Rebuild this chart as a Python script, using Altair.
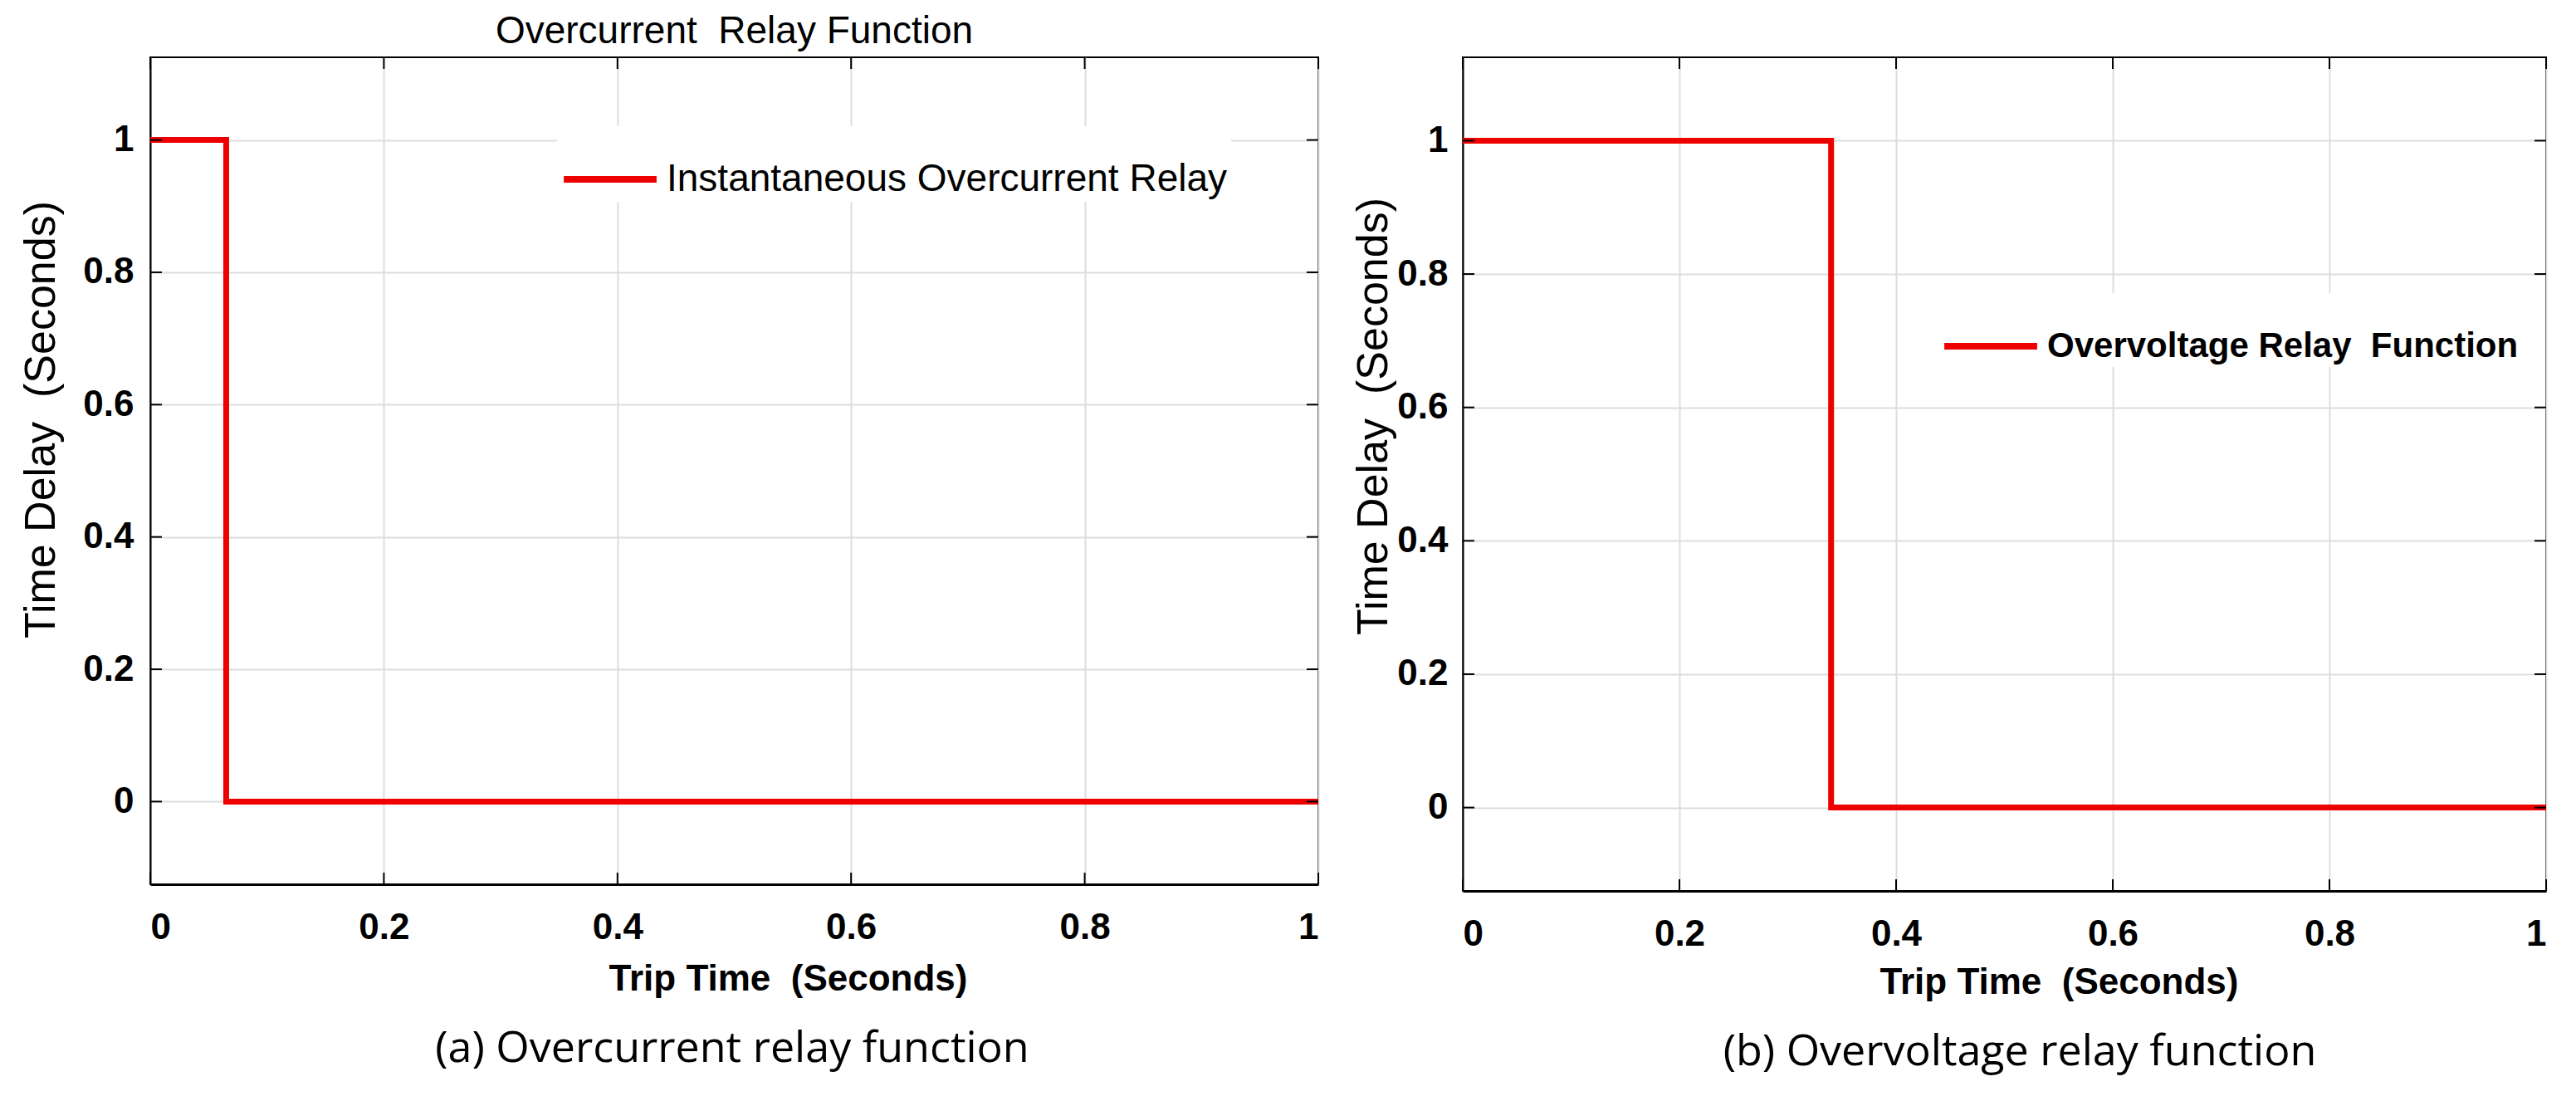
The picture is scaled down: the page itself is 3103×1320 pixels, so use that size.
import altair as alt
import pandas as pd

RED = "#ee0000"
NARROW = "Liberation Sans Narrow, Arial Narrow, Liberation Sans, sans-serif"
SANS = "Liberation Sans, Arial, sans-serif"
CAPTION = "Open Sans, Noto Sans, sans-serif"
NB = "\u00a0"

# ---- data ----
x_ticks = [0, 0.2, 0.4, 0.6, 0.8, 1.0]
y_ticks = [0, 0.2, 0.4, 0.6, 0.8, 1.0]

oc_time = [0.0, 0.065, 0.065, 1.0]
oc_delay = [1.0, 1.0, 0.0, 0.0]
oc_name = "Instantaneous Overcurrent Relay"

ov_time = [0.0, 0.34, 0.34, 1.0]
ov_delay = [1.0, 1.0, 0.0, 0.0]
ov_name = "Overvoltage Relay" + NB + " Function"

x_domain = [0, 1]
y_domain = [-0.125, 1.125]

TICK = 14


def panel(t, d, name, W, H, leg_x, leg_y, leg_weight, leg_size, xt_x, xt_y, yt_x, yt_y, ylab_pad):
    df = pd.DataFrame({"t": t, "d": d, "order": list(range(len(t))), "series": [name] * len(t)})
    xs = alt.Scale(domain=x_domain, nice=False, zero=False)
    ys = alt.Scale(domain=y_domain, nice=False, zero=False)
    common = dict(
        grid=True, gridColor="#dddddd", gridWidth=2,
        ticks=False, tickSize=0,
        domainColor="black",
        labelFont=NARROW, labelFontSize=44, labelFontWeight="bold", labelColor="black",
        format="~g",
    )
    xaxis = alt.Axis(
        values=x_ticks, domainWidth=3, labelPadding=30,
        title="Trip Time" + NB + " (Seconds)", titleFont=NARROW, titleFontSize=44,
        titleFontWeight="bold", titleColor="black",
        titleX=xt_x, titleY=xt_y, titleAlign="center", titleBaseline="middle",
        **common,
    )
    yaxis = alt.Axis(
        values=y_ticks, domainWidth=2, labelPadding=ylab_pad,
        title="Time Delay" + NB + " (Seconds)", titleFont=SANS, titleFontSize=52,
        titleFontWeight="normal", titleColor="black", titleAngle=270,
        titleX=yt_x, titleY=yt_y, titleAlign="center", titleBaseline="middle",
        **common,
    )
    line = alt.Chart(df).mark_line(strokeWidth=7, clip=True).encode(
        x=alt.X("t:Q", scale=xs, axis=xaxis),
        y=alt.Y("d:Q", scale=ys, axis=yaxis),
        order=alt.Order("order:Q"),
        color=alt.Color(
            "series:N",
            scale=alt.Scale(domain=[name], range=[RED]),
            legend=alt.Legend(
                orient="none", legendX=leg_x, legendY=leg_y, title=None,
                symbolType="stroke", symbolStrokeWidth=8, symbolSize=12500,
                labelFont=NARROW, labelFontSize=leg_size, labelFontWeight=leg_weight,
                labelColor="black", labelOffset=8, labelLimit=1000,
                fillColor="white", padding=4,
            ),
        ),
    )
    xt = pd.DataFrame({"v": x_ticks})
    yt = pd.DataFrame({"v": y_ticks})
    rule = dict(color="black", strokeWidth=2)
    top_t = alt.Chart(xt).mark_rule(**rule).encode(
        x=alt.X("v:Q", scale=xs, axis=xaxis), y=alt.value(0), y2=alt.value(TICK))
    bot_t = alt.Chart(xt).mark_rule(**rule).encode(
        x=alt.X("v:Q", scale=xs, axis=xaxis), y=alt.value(H), y2=alt.value(H - TICK))
    left_t = alt.Chart(yt).mark_rule(**rule).encode(
        y=alt.Y("v:Q", scale=ys, axis=yaxis), x=alt.value(0), x2=alt.value(TICK))
    right_t = alt.Chart(yt).mark_rule(**rule).encode(
        y=alt.Y("v:Q", scale=ys, axis=yaxis), x=alt.value(W), x2=alt.value(W - TICK))
    return alt.layer(line, top_t, bot_t, left_t, right_t).properties(width=W, height=H)


WL, HL = 1407, 996
WR, HR = 1305, 1004

left = panel(oc_time, oc_delay, oc_name, WL, HL, 490, 83, "normal", 46,
             768, 114, -132, 436, 20).properties(
    title=alt.TitleParams("Overcurrent" + NB + " Relay Function", font=NARROW, fontSize=46,
                          fontWeight="normal", color="black", offset=6, anchor="middle"))
right = panel(ov_time, ov_delay, ov_name, WR, HR, 572, 284, "bold", 42,
              718, 110, -108, 432, 18)

left_w = alt.vconcat(left).properties(
    title=alt.TitleParams("(a) Overcurrent relay function", orient="bottom", font=CAPTION,
                          fontSize=52, fontWeight="normal", color="black", offset=36,
                          anchor="middle", dx=76))
right_w = alt.vconcat(right).properties(
    title=alt.TitleParams("(b) Overvoltage relay function", orient="bottom", font=CAPTION,
                          fontSize=52, fontWeight="normal", color="black", offset=36,
                          anchor="middle", dx=85))

chart = alt.hconcat(left_w, right_w, spacing=36).resolve_scale(
    color="independent").resolve_legend(color="independent").properties(
    padding={"left": 14, "top": 6, "right": 5, "bottom": 5},
    background="white",
).configure_view(stroke="black", strokeWidth=2)

chart.save("out.html", embed_options={"renderer": "svg", "actions": False})
